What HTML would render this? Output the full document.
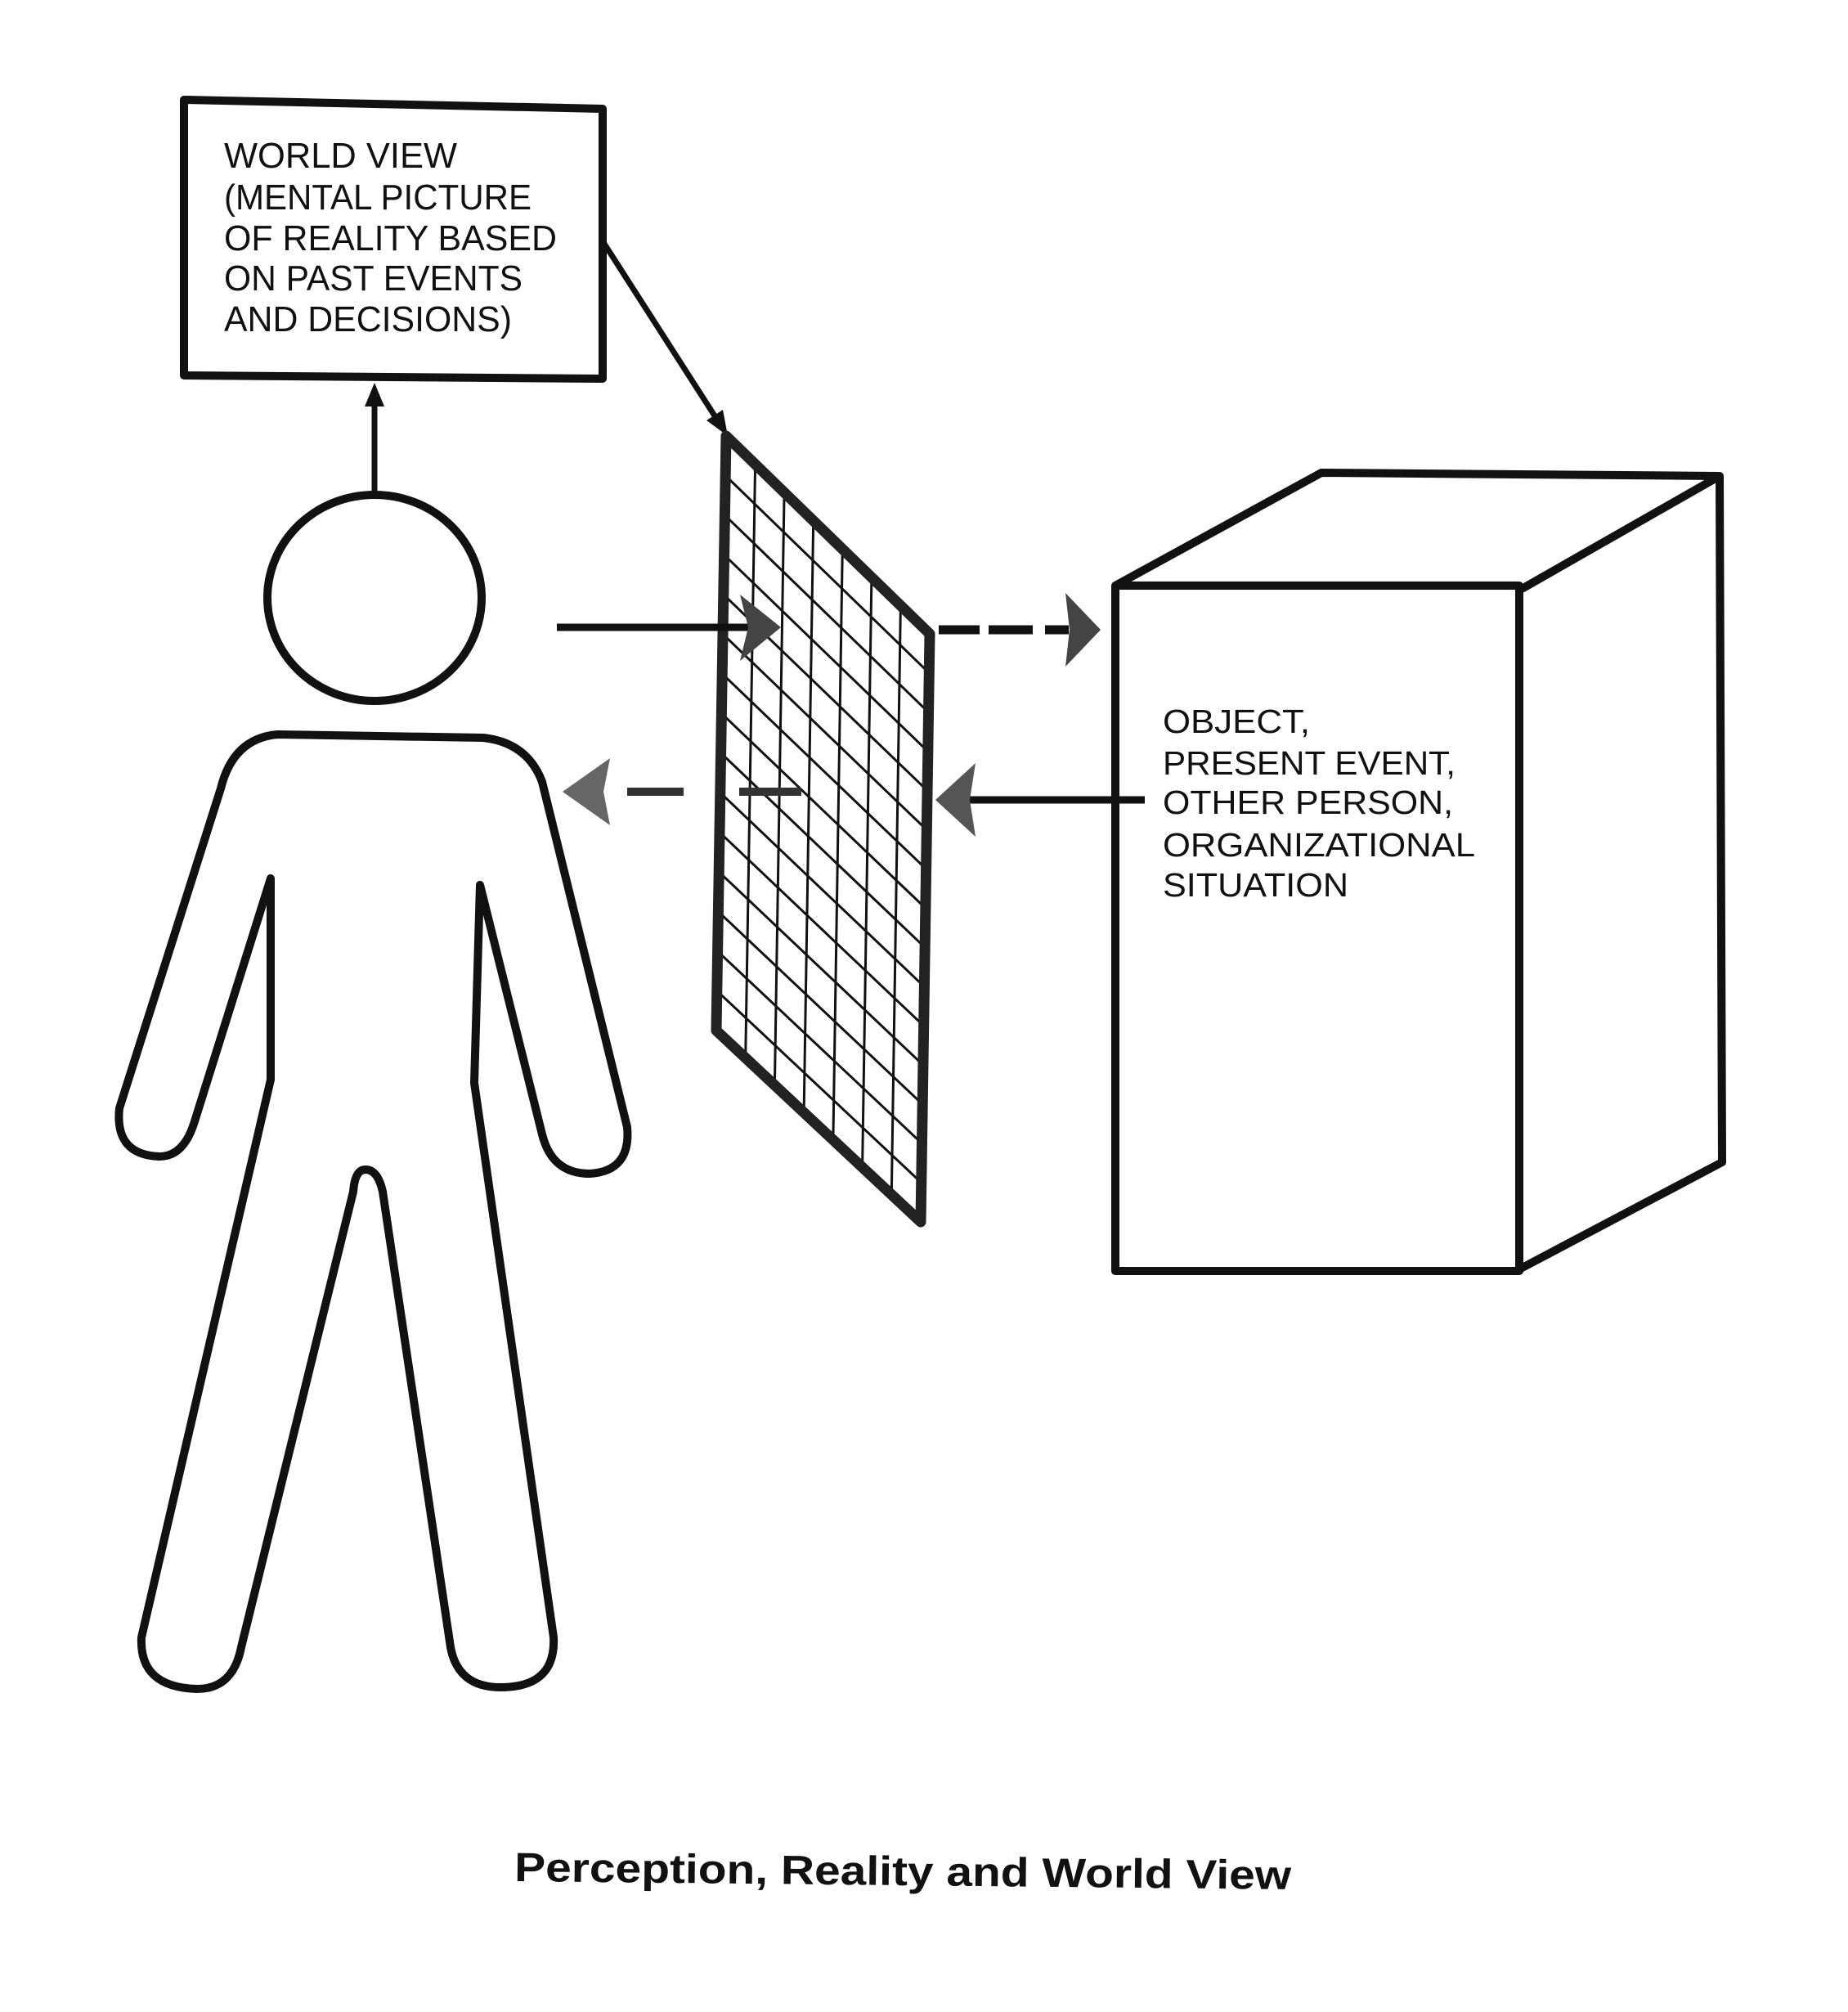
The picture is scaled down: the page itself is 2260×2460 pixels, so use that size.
<!DOCTYPE html>
<html><head><meta charset="utf-8"><style>
html,body{margin:0;padding:0;background:#fff;}
svg{display:block;}
text{font-family:"Liberation Sans",Arial,sans-serif;fill:#111;}
</style></head><body>
<svg width="2260" height="2460" viewBox="0 0 2260 2460" xmlns="http://www.w3.org/2000/svg">
<rect width="2260" height="2460" fill="#fff"/>
<!-- World view box -->
<polygon points="225,122 737,133 737,463 225,459" fill="none" stroke="#111" stroke-width="10" stroke-linejoin="round"/>
<g font-size="44">
<text x="274" y="205" textLength="285" lengthAdjust="spacingAndGlyphs">WORLD VIEW</text>
<text x="274" y="256" textLength="376" lengthAdjust="spacingAndGlyphs">(MENTAL PICTURE</text>
<text x="274" y="306" textLength="407" lengthAdjust="spacingAndGlyphs">OF REALITY BASED</text>
<text x="274" y="355" textLength="365" lengthAdjust="spacingAndGlyphs">ON PAST EVENTS</text>
<text x="274" y="405" textLength="352" lengthAdjust="spacingAndGlyphs">AND DECISIONS)</text>
</g>
<!-- up arrow -->
<line x1="458" y1="600" x2="458" y2="490" stroke="#111" stroke-width="7"/>
<polygon points="458,468 446,497 470,497" fill="#111"/>
<!-- diagonal arrow -->
<line x1="739" y1="298" x2="875" y2="510" stroke="#111" stroke-width="7"/>
<polygon points="890,533 864,514 884,501" fill="#111"/>
<!-- head -->
<ellipse cx="458" cy="731" rx="131" ry="126" fill="none" stroke="#111" stroke-width="10"/>
<!-- body -->
<path d="M339,898 L591,902 Q645,908 663,956 L767,1378 Q772,1432 721,1435 Q675,1435 663,1387 L587,1082 L580,1324 L677,2002 Q680,2063 612,2063 Q560,2063 551,2014 L468,1457 Q462,1430 447,1430 Q434,1430 432,1457 L295,2014 Q285,2065 241,2065 Q170,2063 173,2002 L331,1320 L331,1074 L238,1371 Q225,1414 195,1414 Q140,1412 146,1355 L270,964 Q285,903 339,898 Z" fill="none" stroke="#111" stroke-width="10" stroke-linejoin="round"/>
<!-- panel grid -->
<g stroke="#111" stroke-width="3">
<line x1="923.6" y1="567.6" x2="911.7" y2="1293.4"/>
<line x1="959.1" y1="602.1" x2="947.4" y2="1326.9"/>
<line x1="994.7" y1="636.7" x2="983.1" y2="1360.3"/>
<line x1="1030.3" y1="671.3" x2="1018.9" y2="1393.7"/>
<line x1="1065.9" y1="705.9" x2="1054.6" y2="1427.1"/>
<line x1="1101.4" y1="740.4" x2="1090.3" y2="1460.6"/>
<line x1="887.2" y1="581.5" x2="1136.3" y2="822.9"/>
<line x1="886.4" y1="629.9" x2="1135.5" y2="870.9"/>
<line x1="885.6" y1="678.4" x2="1134.8" y2="918.8"/>
<line x1="884.8" y1="726.9" x2="1134.1" y2="966.7"/>
<line x1="884" y1="775.3" x2="1133.3" y2="1014.7"/>
<line x1="883.2" y1="823.8" x2="1132.6" y2="1062.6"/>
<line x1="882.4" y1="872.3" x2="1131.9" y2="1110.5"/>
<line x1="881.6" y1="920.7" x2="1131.1" y2="1158.4"/>
<line x1="880.8" y1="969.2" x2="1130.4" y2="1206.4"/>
<line x1="880" y1="1017.7" x2="1129.7" y2="1254.3"/>
<line x1="879.2" y1="1066.1" x2="1128.9" y2="1302.2"/>
<line x1="878.4" y1="1114.6" x2="1128.2" y2="1350.2"/>
<line x1="877.6" y1="1163.1" x2="1127.5" y2="1398.1"/>
<line x1="876.8" y1="1211.5" x2="1126.7" y2="1446"/>
</g>
<polygon points="888,533 1137,775 1126,1494 876,1260" fill="none" stroke="#222" stroke-width="13" stroke-linejoin="round"/>
<!-- solid right arrow -->
<line x1="681" y1="767" x2="915" y2="767" stroke="#111" stroke-width="9"/>
<polygon points="955,767 905,727 915,767 905,808" fill="#444"/>
<!-- dashed left arrow -->
<g stroke="#333" stroke-width="10">
<line x1="767" y1="968" x2="836" y2="968"/>
<line x1="904" y1="968" x2="980" y2="968"/>
</g>
<polygon points="688,968 746,927 738,968 746,1009" fill="#666"/>
<!-- dashed right arrow -->
<g stroke="#111" stroke-width="11">
<line x1="1148" y1="770" x2="1198" y2="770"/>
<line x1="1209" y1="770" x2="1263" y2="770"/>
<line x1="1278" y1="770" x2="1307" y2="770"/>
</g>
<polygon points="1346,770 1303,725 1308,770 1303,815" fill="#444"/>
<!-- solid left arrow -->
<line x1="1185" y1="978" x2="1400" y2="978" stroke="#111" stroke-width="9"/>
<polygon points="1144,978 1193,933 1186,978 1193,1023" fill="#555"/>
<!-- cube -->
<g fill="none" stroke="#111" stroke-width="10" stroke-linejoin="round">
<rect x="1364" y="716" width="494" height="838"/>
<polyline points="1364,716 1616,578 2103,582 1861,720"/>
<polyline points="2103,582 2106,1421 1854,1554"/>
</g>
<g font-size="41">
<text x="1422" y="896" textLength="180" lengthAdjust="spacingAndGlyphs">OBJECT,</text>
<text x="1422" y="947" textLength="358" lengthAdjust="spacingAndGlyphs">PRESENT EVENT,</text>
<text x="1422" y="995" textLength="355" lengthAdjust="spacingAndGlyphs">OTHER PERSON,</text>
<text x="1422" y="1047" textLength="382" lengthAdjust="spacingAndGlyphs">ORGANIZATIONAL</text>
<text x="1422" y="1096" textLength="227" lengthAdjust="spacingAndGlyphs">SITUATION</text>
</g>
<!-- caption -->
<text x="629" y="2300" font-size="50" font-weight="bold" textLength="950" lengthAdjust="spacingAndGlyphs" transform="rotate(0.6 629 2300)">Perception, Reality and World View</text>
</svg>
</body></html>
